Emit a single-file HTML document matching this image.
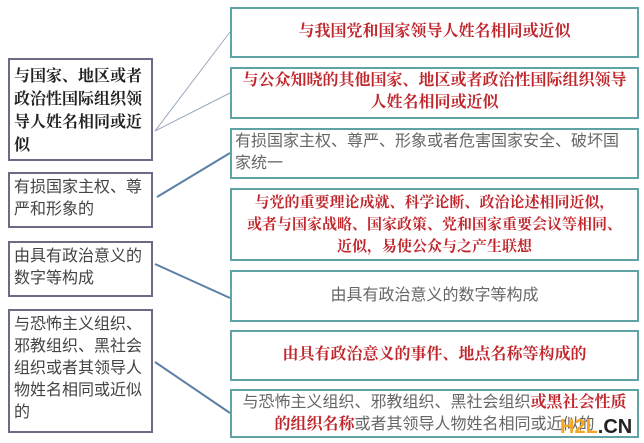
<!DOCTYPE html><html><head><meta charset="utf-8"><style>
body{margin:0;width:644px;height:443px;background:#fff;position:relative;overflow:hidden;font-family:"Liberation Sans","Noto Sans CJK SC",sans-serif}
.b{position:absolute;box-sizing:border-box;font-size:16px;line-height:22px;white-space:nowrap;overflow:hidden}
.l{left:8px;width:145px;border:2px solid #6e6a86;padding:3px 4px;color:#444;font-size:16px;line-height:22px}
.r{left:230px;width:409px;border:2px solid #5fa3a5;text-align:center;color:#666;padding:2px 3px}
.red{color:#c0272d;font-weight:bold;font-family:"Liberation Serif","Noto Serif CJK SC",serif}
</style></head><body>
<svg width="644" height="443" style="position:absolute;left:0;top:0">
<g stroke="#9aa8bc" stroke-width="1"><line x1="155" y1="131" x2="230" y2="32"/><line x1="155" y1="131" x2="230" y2="93"/></g>
<g stroke="#5b7fa6" stroke-width="2"><line x1="157" y1="197" x2="230" y2="153"/><line x1="155" y1="264" x2="230" y2="298"/><line x1="155" y1="362" x2="230" y2="413"/></g>
</svg>
<div class="b l" style="top:58px;height:103px;font-weight:bold;font-size:16px;line-height:23px;color:#222;padding-top:5px;font-family:'Liberation Serif','Noto Serif CJK SC',serif">与国家、地区或者<br>政治性国际组织领<br>导人姓名相同或近<br>似</div>
<div class="b l" style="top:172px;height:56px">有损国家主权、尊<br>严和形象的</div>
<div class="b l" style="top:241px;height:56px">由具有政治意义的<br>数字等构成</div>
<div class="b l" style="top:309px;height:124px">与恐怖主义组织、<br>邪教组织、黑社会<br>组织或者其领导人<br>物姓名相同或近似<br>的</div>
<div class="b r red" style="top:7px;height:51px;padding-top:12px">与我国党和国家领导人姓名相同或近似</div>
<div class="b r red" style="top:67px;height:52px;padding-top:1px">与公众知晓的其他国家、地区或者政治性国际组织领导<br>人姓名相同或近似</div>
<div class="b r" style="top:128px;height:51px;text-align:left;padding-top:1px">有损国家主权、尊严、形象或者危害国家安全、破坏国<br>家统一</div>
<div class="b r red" style="top:188px;height:73px;padding-top:2px;font-size:15px">与党的重要理论成就、科学论断、政治论述相同近似，<br>或者与国家战略、国家政策、党和国家重要会议等相同、<br>近似，易使公众与之产生联想</div>
<div class="b r" style="top:270px;height:52px;padding-top:13px">由具有政治意义的数字等构成</div>
<div class="b r red" style="top:330px;height:51px;padding-top:12px">由具有政治意义的事件、地点名称等构成的</div>
<div class="b r" style="top:389px;height:49px;padding-top:1px">与恐怖主义组织、邪教组织、黑社会组织<span class="red">或黑社会性质</span><br><span class="red">的组织名称</span>或者其领导人物姓名相同或近似的</div>
<div style="position:absolute;left:560px;top:416px;font:bold 20px 'Liberation Sans',sans-serif;color:#f5a623">H2L<span style="color:#222">.CN</span></div>
</body></html>
